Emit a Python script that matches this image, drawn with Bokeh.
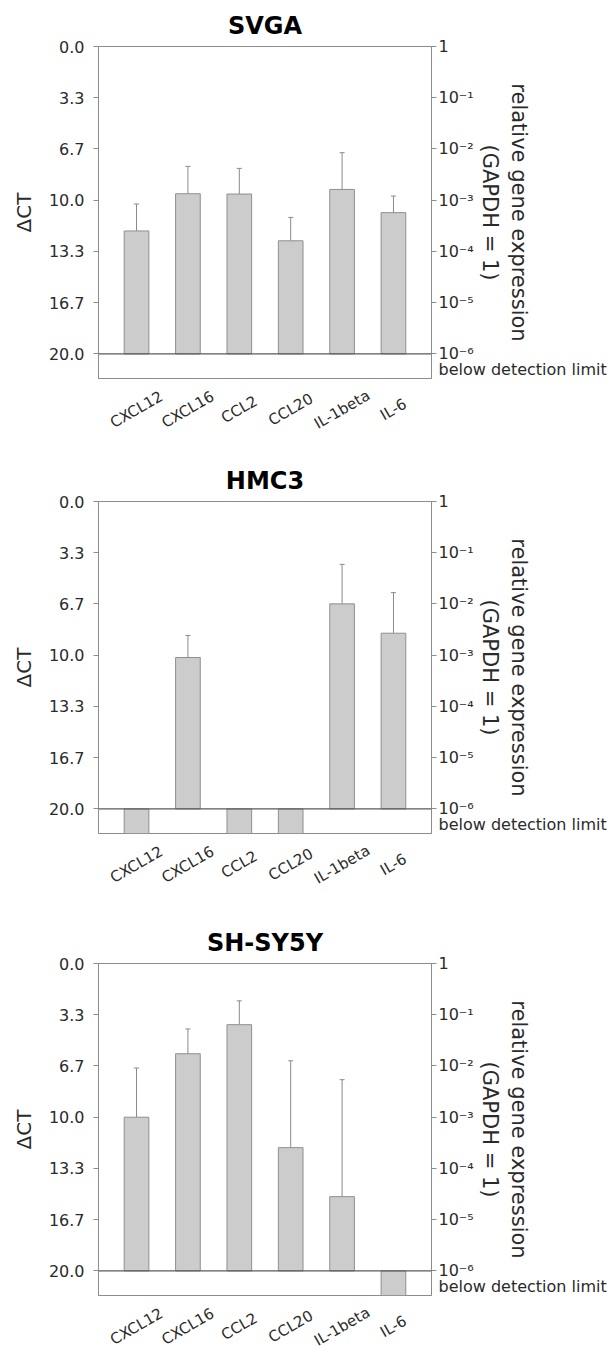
from bokeh.plotting import figure
from bokeh.layouts import column
from bokeh.models import (Range1d, FactorRange, FixedTicker, PrintfTickFormatter,
                          CustomJSTickFormatter, LinearAxis, Span, Whisker, TeeHead,
                          ColumnDataSource)
from bokeh.core.properties import value
from bokeh.embed import file_html
from bokeh.resources import INLINE

# ---------------- data ----------------
genes = ["CXCL12", "CXCL16", "CCL2", "CCL20", "IL-1beta", "IL-6"]
panel_titles = ["SVGA", "HMC3", "SH-SY5Y"]

# mean ΔCT per gene (None = below detection limit)
svga_dct = [12.0, 9.58, 9.60, 12.64, 9.30, 10.81]
hmc3_dct = [None, 10.15, None, None, 6.66, 8.57]
shsy5y_dct = [10.0, 5.87, 3.98, 11.98, 15.17, None]

# error (ΔCT units, drawn towards higher expression only)
svga_err = [1.75, 1.78, 1.67, 1.52, 2.39, 1.08]
hmc3_err = [None, 1.43, None, None, 2.57, 2.64]
shsy5y_err = [3.20, 1.61, 1.55, 5.65, 7.61, None]

detection_limit = 20.0
left_tick_values = [0.0, 20 / 6, 40 / 6, 10.0, 80 / 6, 100 / 6, 20.0]
right_tick_labels = ["1", "10⁻¹", "10⁻²", "10⁻³", "10⁻⁴", "10⁻⁵", "10⁻⁶"]
below_label = "below detection limit"
below_label_pos = 21.0

FONT = "DejaVu Sans"
BAR_FILL = "#cccccc"
BAR_LINE = "#8f8f8f"
AXIS_COL = "#8c8c8c"
TEXT_COL = "#2a2a2a"
Y_BOTTOM = 21.6
W = 612
BL, BR = 98, 181          # left / right borders (frame spans 98..431)
TOP, FRAME_H, BOT = 46, 332, 2
LABEL_DROP = 29           # centre of the rotated category labels below the strip top

x_range = FactorRange(*genes, range_padding=0.08)


def make_panel(title, dct, err):
    p = figure(x_range=x_range, y_range=Range1d(Y_BOTTOM, 0),
               width=W, height=TOP + FRAME_H + BOT,
               min_border_left=BL, min_border_right=BR,
               min_border_top=TOP, min_border_bottom=BOT,
               output_backend="svg", toolbar_location=None, title=title)
    p.title.text_font = FONT
    p.title.text_font_size = "24px"
    p.title.text_font_style = "bold"
    p.title.text_color = "black"
    p.title.align = "center"
    p.title.standoff = 13

    p.grid.visible = False
    p.outline_line_color = AXIS_COL
    p.background_fill_color = "white"
    p.xaxis.visible = False

    xa = [g for g, v in zip(genes, dct) if v is not None]
    ta = [v for v in dct if v is not None]
    src_a = ColumnDataSource(dict(x=xa, top=ta, bottom=[detection_limit] * len(xa)))
    p.vbar(x="x", top="top", bottom="bottom", width=0.48, source=src_a,
           fill_color=BAR_FILL, line_color=BAR_LINE, line_width=1)

    xb = [g for g, v in zip(genes, dct) if v is None]
    if xb:
        src_b = ColumnDataSource(dict(x=xb, top=[detection_limit] * len(xb),
                                      bottom=[Y_BOTTOM] * len(xb)))
        p.vbar(x="x", top="top", bottom="bottom", width=0.48, source=src_b,
               fill_color=BAR_FILL, line_color=BAR_LINE, line_width=1)

    lo = [v for v in dct if v is not None]
    up = [v - e for v, e in zip(dct, err) if v is not None]
    src_e = ColumnDataSource(dict(base=xa, lower=lo, upper=up))
    p.add_layout(Whisker(base="base", lower="lower", upper="upper", source=src_e,
                         dimension="height", line_color="#8a8a8a", line_width=1,
                         lower_head=None,
                         upper_head=TeeHead(size=5, line_color="#8a8a8a", line_width=1)))

    p.add_layout(Span(location=detection_limit, dimension="width",
                      line_color="#5a5a5a", line_width=1.2))

    ya = p.yaxis[0]
    ya.ticker = FixedTicker(ticks=left_tick_values)
    ya.formatter = PrintfTickFormatter(format="%.1f")
    ya.axis_label = "ΔCT"
    ya.axis_label_text_font = FONT
    ya.axis_label_text_font_size = "20px"
    ya.axis_label_text_font_style = "normal"
    ya.axis_label_text_color = TEXT_COL
    ya.axis_label_standoff = 10
    ya.major_label_text_font = FONT
    ya.major_label_text_font_size = "16px"
    ya.major_label_text_color = TEXT_COL
    ya.major_label_standoff = 9
    ya.axis_line_color = AXIS_COL
    ya.major_tick_line_color = AXIS_COL
    ya.major_tick_out = 5
    ya.major_tick_in = 0
    ya.minor_tick_line_color = None

    # right axis: relative expression; tick marks drawn as minor ticks so that
    # the "below detection limit" label gets no mark
    r_ticks = left_tick_values + [below_label_pos]
    r_labels = right_tick_labels + [below_label]
    ra = LinearAxis(ticker=FixedTicker(ticks=r_ticks, minor_ticks=left_tick_values),
                    formatter=CustomJSTickFormatter(
                        args=dict(pos=r_ticks, labels=r_labels),
                        code="""
                        let best = 0;
                        for (let i = 0; i < pos.length; i++) {
                          if (Math.abs(pos[i] - tick) < Math.abs(pos[best] - tick)) best = i;
                        }
                        return labels[best];
                        """),
                    axis_label="relative gene expression\n(GAPDH = 1)")
    ra.axis_label_text_font = FONT
    ra.axis_label_text_font_size = "21px"
    ra.axis_label_text_font_style = "normal"
    ra.axis_label_text_color = TEXT_COL
    ra.axis_label_standoff = -132
    ra.major_label_text_font = FONT
    ra.major_label_text_font_size = "16px"
    ra.major_label_text_color = TEXT_COL
    ra.major_label_standoff = 2
    ra.axis_line_color = AXIS_COL
    ra.major_tick_line_color = None
    ra.major_tick_out = 5
    ra.major_tick_in = 0
    ra.minor_tick_line_color = AXIS_COL
    ra.minor_tick_out = 5
    ra.minor_tick_in = 0
    p.add_layout(ra, "right")
    return p


def make_label_strip(height):
    s = figure(x_range=x_range, y_range=Range1d(height, 0),
               width=W, height=height,
               min_border_left=BL, min_border_right=BR,
               min_border_top=0, min_border_bottom=0,
               x_axis_location=None, y_axis_location=None,
               output_backend="svg", toolbar_location=None)
    s.grid.visible = False
    s.outline_line_color = None
    src = ColumnDataSource(dict(x=genes, y=[LABEL_DROP] * len(genes), text=genes))
    s.text(x="x", y="y", text="text", source=src, angle=0.5236,
           text_align="center", text_baseline="middle",
           text_font=value(FONT), text_font_size="15px", text_color=TEXT_COL)
    return s


main_h = TOP + FRAME_H + BOT
figs = [
    make_panel(panel_titles[0], svga_dct, svga_err), make_label_strip(455 - main_h),
    make_panel(panel_titles[1], hmc3_dct, hmc3_err), make_label_strip(462 - main_h),
    make_panel(panel_titles[2], shsy5y_dct, shsy5y_err), make_label_strip(1349 - 917 - main_h),
]

layout = column(*figs, spacing=0)
open("out.html", "w").write(file_html(layout, INLINE))
